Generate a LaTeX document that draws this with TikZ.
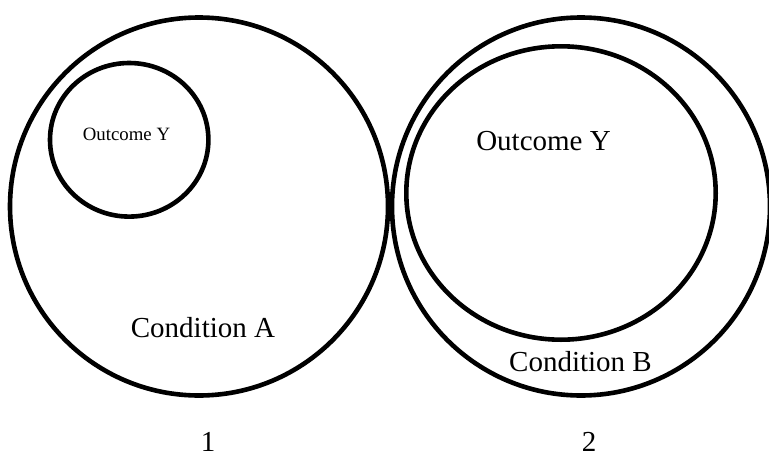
\documentclass[tikz,border=0pt]{standalone}
\usepackage{fontspec}
\setmainfont{Liberation Serif}
\begin{document}
\begin{tikzpicture}[x=1pt,y=-1pt,
  ring/.style={draw=black,line width=4.6pt},
  bigtxt/.style={font=\fontsize{29}{34}\selectfont,anchor=base,inner sep=0pt},
  smalltxt/.style={font=\fontsize{18.8}{22}\selectfont,anchor=base,inner sep=0pt}]
\useasboundingbox (0,0) rectangle (769,453);
% set 1
\draw[ring] (199,206.5) circle[radius=189];
\draw[ring] (129.2,139.8) ellipse[x radius=79.2,y radius=76.8];
\node[smalltxt] (oy1) at (126.5,140) {Outcome Y};
\node[bigtxt] (ca) at (203,337.3) {Condition A};
\node[bigtxt] (n1) at (208,451) {1};
% set 2
\draw[ring] (581,206.5) circle[radius=189];
\draw[ring] (561,193) ellipse[x radius=154.7,y radius=146.7];
\node[bigtxt] (oy2) at (543.5,150.7) {Outcome Y};
\node[bigtxt] (cb) at (580.5,371) {Condition B};
\node[bigtxt] (n2) at (589,451) {2};
\end{tikzpicture}
\end{document}
